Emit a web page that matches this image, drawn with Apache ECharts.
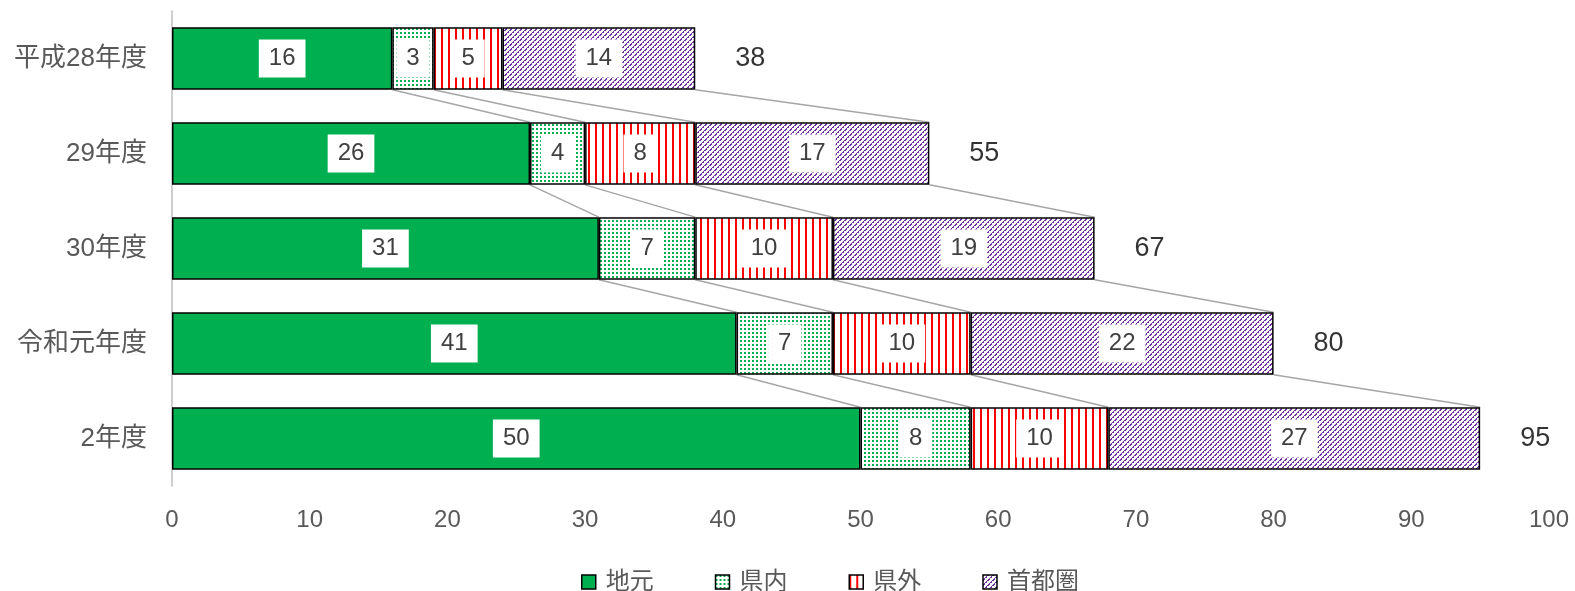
<!DOCTYPE html>
<html><head><meta charset="utf-8">
<script src="https://cdn.jsdelivr.net/npm/echarts@6/dist/echarts.min.js"></script>
<style>html,body{margin:0;padding:0;background:#fff}#c{width:1575px;height:591px}</style>
</head><body><div id="c"></div>
<script>
const categories = ['平成28年度', '29年度', '30年度', '令和元年度', '2年度'];
const seriesNames = ['地元', '県内', '県外', '首都圏'];
const jimoto = [16, 26, 31, 41, 50];
const kennai = [3, 4, 7, 7, 8];
const kengai = [5, 8, 10, 10, 10];
const shutoken = [14, 17, 19, 22, 27];
const totals = [38, 55, 67, 80, 95];
const xTicks = [0, 10, 20, 30, 40, 50, 60, 70, 80, 90, 100];

const FONT = '"Liberation Sans", "Noto Sans CJK JP", sans-serif';

function pat(w, h, draw) {
  const c = document.createElement('canvas');
  c.width = w; c.height = h;
  const g = c.getContext('2d');
  g.fillStyle = '#fff'; g.fillRect(0, 0, w, h);
  draw(g);
  return { image: c, repeat: 'repeat' };
}
const dotPat = pat(4, 4, g => { g.fillStyle = '#00B050'; g.fillRect(0, 0, 2, 2); });
const vPat = pat(7, 7, g => { g.fillStyle = '#FF0000'; g.fillRect(0, 0, 2, 7); });
const dPat = pat(5, 5, g => {
  g.fillStyle = '#7030A0';
  for (let i = 0; i < 5; i++) {
    g.fillRect((4 - i + 5) % 5, i, 1, 1);
    if (i % 2 === 0) g.fillRect((5 - i + 5) % 5, i, 1, 1);
  }
});

const dataArrays = [jimoto, kennai, kengai, shutoken];
const fills = ['#00B050', dotPat, vPat, dPat];

const labelStyle = {
  show: true, position: 'inside', color: '#404040', fontSize: 24, fontFamily: FONT,
  backgroundColor: '#fff', padding: [8, 10, 6, 10]
};

const barSeries = dataArrays.map((arr, i) => ({
  name: seriesNames[i], type: 'bar', stack: 's', data: arr,
  barCategoryGap: '34%',
  itemStyle: { color: fills[i], borderColor: '#000', borderWidth: 1.5 },
  label: labelStyle, z: 3
}));

const lineData = [];
for (let i = 0; i < categories.length - 1; i++) {
  let c1 = 0, c2 = 0;
  for (let k = 0; k < dataArrays.length; k++) {
    c1 += dataArrays[k][i]; c2 += dataArrays[k][i + 1];
    lineData.push([c1, i, c2, i + 1]);
  }
}

const option = {
  animation: false,
  grid: { left: 172, right: 26, top: 11, bottom: 105, containLabel: false },
  xAxis: {
    type: 'value', min: 0, max: 100, interval: 10,
    axisLine: { show: false }, axisTick: { show: false }, splitLine: { show: false },
    axisLabel: { color: '#595959', fontSize: 24, fontFamily: FONT, margin: 22 }
  },
  yAxis: {
    type: 'category', data: categories, inverse: true,
    axisLine: { show: true, lineStyle: { color: '#BFBFBF', width: 1.5 } },
    axisTick: { show: false },
    axisLabel: { color: '#595959', fontSize: 26, fontFamily: FONT, margin: 25 }
  },
  legend: {
    top: 565, left: 576, itemWidth: 14, itemHeight: 14, itemGap: 61,
    icon: 'rect',
    data: seriesNames,
    textStyle: { color: '#595959', fontSize: 24, fontFamily: FONT, padding: [0, 0, 0, 5] },
    itemStyle: { borderColor: '#000', borderWidth: 1.5 }
  },
  series: [
    ...barSeries,
    {
      type: 'custom', name: 'lines', data: lineData, z: 1, silent: true,
      encode: { x: [0, 2], y: [1, 3] },
      renderItem: (params, api) => {
        const p1 = api.coord([api.value(0), api.value(1)]);
        const p2 = api.coord([api.value(2), api.value(3)]);
        const band = api.size([0, 1])[1];
        const half = band * 0.66 / 2;
        return {
          type: 'line',
          shape: { x1: p1[0], y1: p1[1] + half, x2: p2[0], y2: p2[1] - half },
          style: { stroke: '#A6A6A6', lineWidth: 1.5 }
        };
      }
    },
    {
      type: 'scatter', name: 'total', data: totals.map((t, i) => [t, i]),
      symbolSize: 0, silent: true,
      label: {
        show: true, position: 'inside', offset: [55, 0], color: '#000', fontSize: 27, fontFamily: FONT,
        formatter: p => String(p.value[0])
      }
    }
  ]
};
const chart = echarts.init(document.getElementById('c'));
chart.setOption(option);
</script></body></html>
